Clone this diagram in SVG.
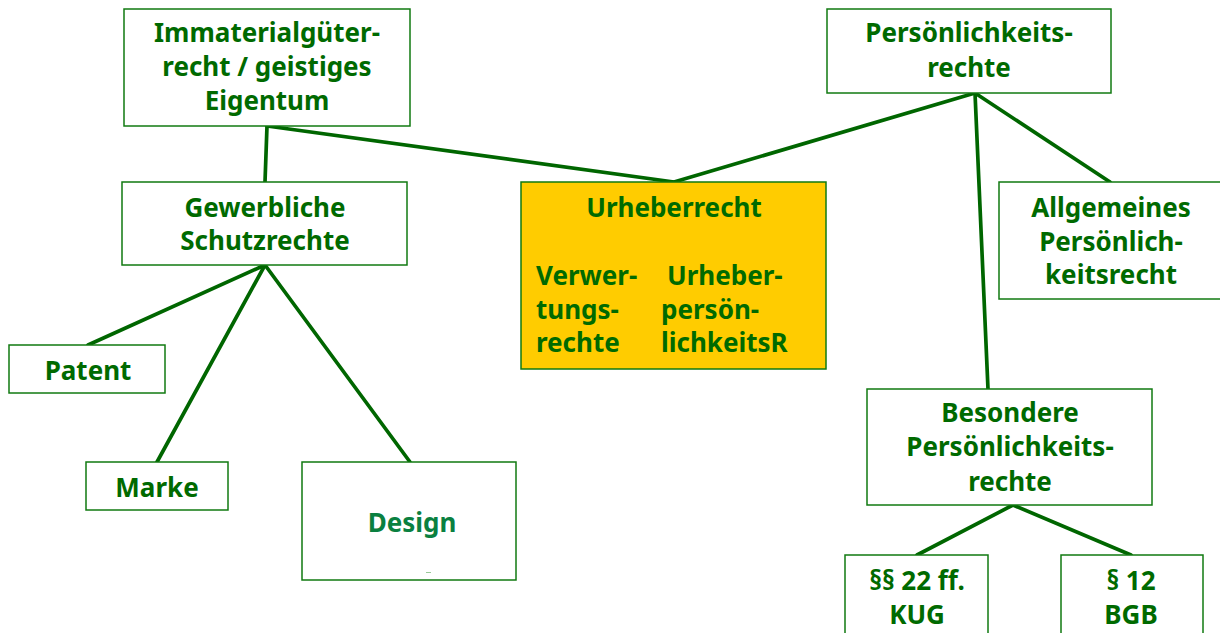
<svg xmlns="http://www.w3.org/2000/svg" width="1220" height="633" viewBox="0 0 1220 633">
<style>
.box{fill:#fff;stroke:#117a11;stroke-width:1.5}
.hl{fill:#ffcc00}
.t{font-family:"Noto Sans","Open Sans","DejaVu Sans",sans-serif;font-weight:bold;font-size:26px;fill:#006a00;text-anchor:middle}
.l{text-anchor:start}
.d{fill:#0a8040}
.c{stroke:#006600;stroke-width:3.7;fill:none;stroke-linecap:round}
</style>
<rect width="1220" height="633" fill="#fff"/>
<g id="connectors">
<line class="c" x1="267" y1="126" x2="265" y2="182"/>
<line class="c" x1="267" y1="126" x2="674" y2="182"/>
<line class="c" x1="975" y1="93" x2="674" y2="182"/>
<line class="c" x1="975" y1="93" x2="1110" y2="182"/>
<line class="c" x1="975" y1="93" x2="988" y2="389"/>
<line class="c" x1="265" y1="265" x2="88" y2="345"/>
<line class="c" x1="265" y1="265" x2="157" y2="462"/>
<line class="c" x1="265" y1="265" x2="410" y2="462"/>
<line class="c" x1="1013" y1="505" x2="917" y2="555"/>
<line class="c" x1="1013" y1="505" x2="1131" y2="555"/>
</g>
<g id="immaterial">
<rect class="box" x="124" y="9" width="286" height="117"/>
<text class="t" x="267" y="42">Immaterialgüter-</text>
<text class="t" x="267" y="76">recht / geistiges</text>
<text class="t" x="267" y="110">Eigentum</text>
</g>
<g id="persoenlichkeitsrechte">
<rect class="box" x="827" y="9" width="284" height="84"/>
<text class="t" x="969" y="42">Persönlichkeits-</text>
<text class="t" x="969" y="77">rechte</text>
</g>
<g id="gewerbliche">
<rect class="box" x="122" y="182" width="285" height="83"/>
<text class="t" x="265" y="217">Gewerbliche</text>
<text class="t" x="265" y="250">Schutzrechte</text>
</g>
<g id="urheberrecht">
<rect class="box hl" x="521" y="182" width="305" height="187"/>
<text class="t" x="674" y="217">Urheberrecht</text>
<text class="t l" x="536" y="285">Verwer-</text>
<text class="t l" x="536" y="319">tungs-</text>
<text class="t l" x="536" y="352">rechte</text>
<text class="t l" x="667" y="285">Urheber-</text>
<text class="t l" x="661" y="319">persön-</text>
<text class="t l" x="661" y="352">lichkeitsR</text>
</g>
<g id="allgemeines">
<rect class="box" x="999" y="182" width="230" height="117"/>
<text class="t" x="1111" y="217">Allgemeines</text>
<text class="t" x="1111" y="251">Persönlich-</text>
<text class="t" x="1111" y="284">keitsrecht</text>
</g>
<g id="patent">
<rect class="box" x="9" y="345" width="156" height="48"/>
<text class="t" x="88" y="380">Patent</text>
</g>
<g id="marke">
<rect class="box" x="86" y="462" width="142" height="48"/>
<text class="t" x="157" y="497">Marke</text>
</g>
<g id="design">
<rect class="box" x="302" y="462" width="214" height="118"/>
<text class="t d" x="412" y="532">Design</text>
<rect x="426" y="572" width="5" height="1" fill="#9ac89a"/>
</g>
<g id="besondere">
<rect class="box" x="867" y="389" width="285" height="116"/>
<text class="t" x="1010" y="422">Besondere</text>
<text class="t" x="1010" y="456">Persönlichkeits-</text>
<text class="t" x="1010" y="491">rechte</text>
</g>
<g id="kug">
<rect class="box" x="845" y="555" width="143" height="90"/>
<text class="t" x="917" y="590">§§ 22 ff.</text>
<text class="t" x="917" y="624">KUG</text>
</g>
<g id="bgb">
<rect class="box" x="1061" y="555" width="142" height="90"/>
<text class="t" x="1131" y="590">§ 12</text>
<text class="t" x="1131" y="624">BGB</text>
</g>
</svg>
